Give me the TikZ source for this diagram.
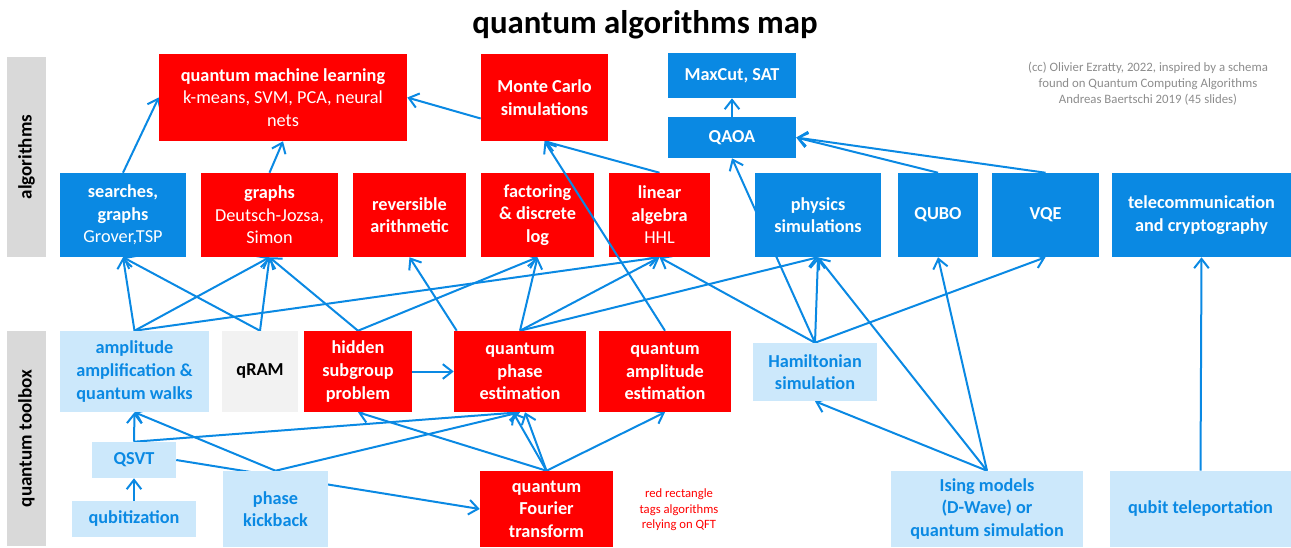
\documentclass[tikz,border=0pt]{standalone}
\usepackage{fontspec}
\setmainfont{Carlito}
\usetikzlibrary{arrows.meta,calc,backgrounds}

\definecolor{algred}{HTML}{FF0000}
\definecolor{algblue}{HTML}{0A89E3}
\definecolor{toollight}{HTML}{CCE8FB}
\definecolor{sidegray}{HTML}{D9D9D9}
\definecolor{ramgray}{HTML}{F2F2F2}
\definecolor{creditgray}{HTML}{8C8C8C}

\newcommand\boxfont{\fontsize{13.7}{16.9}\selectfont}

\tikzset{
  qbox/.style 2 args={minimum width=#1*0.75pt, minimum height=#2*0.75pt,
    inner sep=0pt, align=center, font=\boxfont\bfseries},
  redbox/.style 2 args={qbox={#1}{#2}, fill=algred, text=white},
  bluebox/.style 2 args={qbox={#1}{#2}, fill=algblue, text=white},
  lightbox/.style 2 args={qbox={#1}{#2}, fill=toollight, text=algblue},
  sidebox/.style 2 args={qbox={#1}{#2}, fill=sidegray, rotate=90,
    font=\fontsize{14.3}{17}\selectfont\bfseries},
  link/.style={draw=algblue, line width=1.5pt,
    -{Straight Barb[length=7pt,width=11pt]}},
}

\begin{document}
\begin{tikzpicture}[x=0.75pt, y=-0.75pt]
\useasboundingbox (0,0) rectangle (1291,547);

\node[font=\fontsize{24.6}{29}\selectfont\bfseries] (title) at (645,25) {quantum algorithms map};

% side bars
\node[sidebox={200}{39}] (algbar) at (26.5,157) {algorithms};
\node[sidebox={215}{39}] (toolbar) at (26.5,438.5) {quantum toolbox};

% algorithms, top rows
\node[redbox={248}{87}] (qml) at (283,97.5) {quantum machine learning\\\textmd{k-means, SVM, PCA, neural}\\\textmd{nets}};
\node[redbox={127}{87}] (mc) at (544.5,97.5) {Monte Carlo\\simulations};
\node[bluebox={128}{45}] (maxcut) at (732,75.5) {MaxCut, SAT};
\node[bluebox={128}{41}] (qaoa) at (732,137.5) {QAOA};

\node[bluebox={126}{84}] (search) at (123,215) {searches,\\graphs\\\textmd{Grover,TSP}};
\node[redbox={137}{84}] (graphs) at (269.5,215) {graphs\\\textmd{Deutsch-Jozsa,}\\\textmd{Simon}};
\node[redbox={113}{84}] (revarith) at (409.5,215) {reversible\\arithmetic};
\node[redbox={113}{84}] (factoring) at (537.5,215) {factoring\\\& discrete\\log};
\node[redbox={101}{84}] (linalg) at (659.5,215) {linear\\algebra\\\textmd{HHL}};
\node[bluebox={126}{84}] (physim) at (818,215) {physics\\simulations};
\node[bluebox={80}{84}] (qubo) at (938,215) {QUBO};
\node[bluebox={107}{84}] (vqe) at (1045.5,215) {VQE};
\node[bluebox={179}{84}] (telecom) at (1201.5,215) {telecommunication\\and cryptography};

% quantum toolbox
\node[lightbox={149}{81}] (ampamp) at (134.5,371.5) {amplitude\\amplification \&\\quantum walks};
\node[qbox={76}{81}, fill=ramgray] (qram) at (260,371.5) {qRAM};
\node[redbox={108}{81}] (hsp) at (358,371.5) {hidden\\subgroup\\problem};
\node[redbox={132}{81}] (qpe) at (520,371.5) {quantum\\phase\\estimation};
\node[redbox={132}{81}] (qae) at (665,371.5) {quantum\\amplitude\\estimation};
\node[lightbox={124}{58}] (hamsim) at (815,372) {Hamiltonian\\simulation};
\node[lightbox={84}{36}] (qsvt) at (134,460) {QSVT};
\node[lightbox={124}{36}] (qubitiz) at (134,519) {qubitization};
\node[lightbox={105}{76}] (kickback) at (275.5,509) {phase\\kickback};
\node[redbox={133}{76}] (qft) at (546.5,509) {quantum\\Fourier\\transform};
\node[lightbox={192}{76}] (ising) at (987,509) {Ising models\\(D-Wave) or\\quantum simulation};
\node[lightbox={181}{76}] (teleport) at (1200.5,509) {qubit teleportation};

% notes
\node[text=algred, align=center, font=\fontsize{9.5}{11.6}\selectfont] (qftnote) at (679,510) {red rectangle\\tags algorithms\\relying on QFT};
\node[text=creditgray, align=center, font=\fontsize{9.6}{12}\selectfont] (credit) at (1148,84) {(cc) Olivier Ezratty, 2022, inspired by a schema\\found on Quantum Computing Algorithms\\Andreas Baertschi 2019 (45 slides)};

% arrows
\coordinate (mcw) at ($(mc.west)+(0,21)$);
\coordinate (qpetl) at ($(qpe.north west)+(3,0)$);
\coordinate (qpeb1) at ($(qpe.south)+(-7,0)$);
\coordinate (qpeb2) at ($(qpe.south)+(5,0)$);
\begin{pgfonlayer}{background}
  \foreach \a/\b in {search.north/qml.west, graphs.north/qml.south, mcw/qml.east,
      linalg.north/mc.south, qaoa.north/maxcut.south,
      hamsim.north/qaoa.south, qubo.north/qaoa.east, vqe.north/qaoa.east,
      ampamp.north/search.south, ampamp.north/graphs.south, ampamp.north/linalg.south,
      qram.north/search.south, qram.north/graphs.south,
      hsp.north/graphs.south, hsp.north/factoring.south, qpetl/revarith.south,
      qpe.north/factoring.south, qpe.north/linalg.south, qpe.north/physim.south,
      hamsim.north/linalg.south, hamsim.north/physim.south, hamsim.north/vqe.south,
      ising.north/hamsim.south, ising.north/physim.south, ising.north/qubo.south,
      teleport.north/telecom.south, hsp.east/qpe.west,
      qsvt.north/ampamp.south, qsvt.north/qpe.south, qsvt.east/qft.west,
      kickback.north/ampamp.south, kickback.north/qpe.south,
      qft.north/qpeb1, qft.north/qpeb2, qft.north/hsp.south, qft.north/qae.south,
      qubitiz.north/qsvt.south}
    \draw[link] (\a) -- (\b);
\end{pgfonlayer}
% this one runs over the factoring box
\draw[link] (qae.north) -- (mc.south);
\end{tikzpicture}
\end{document}
